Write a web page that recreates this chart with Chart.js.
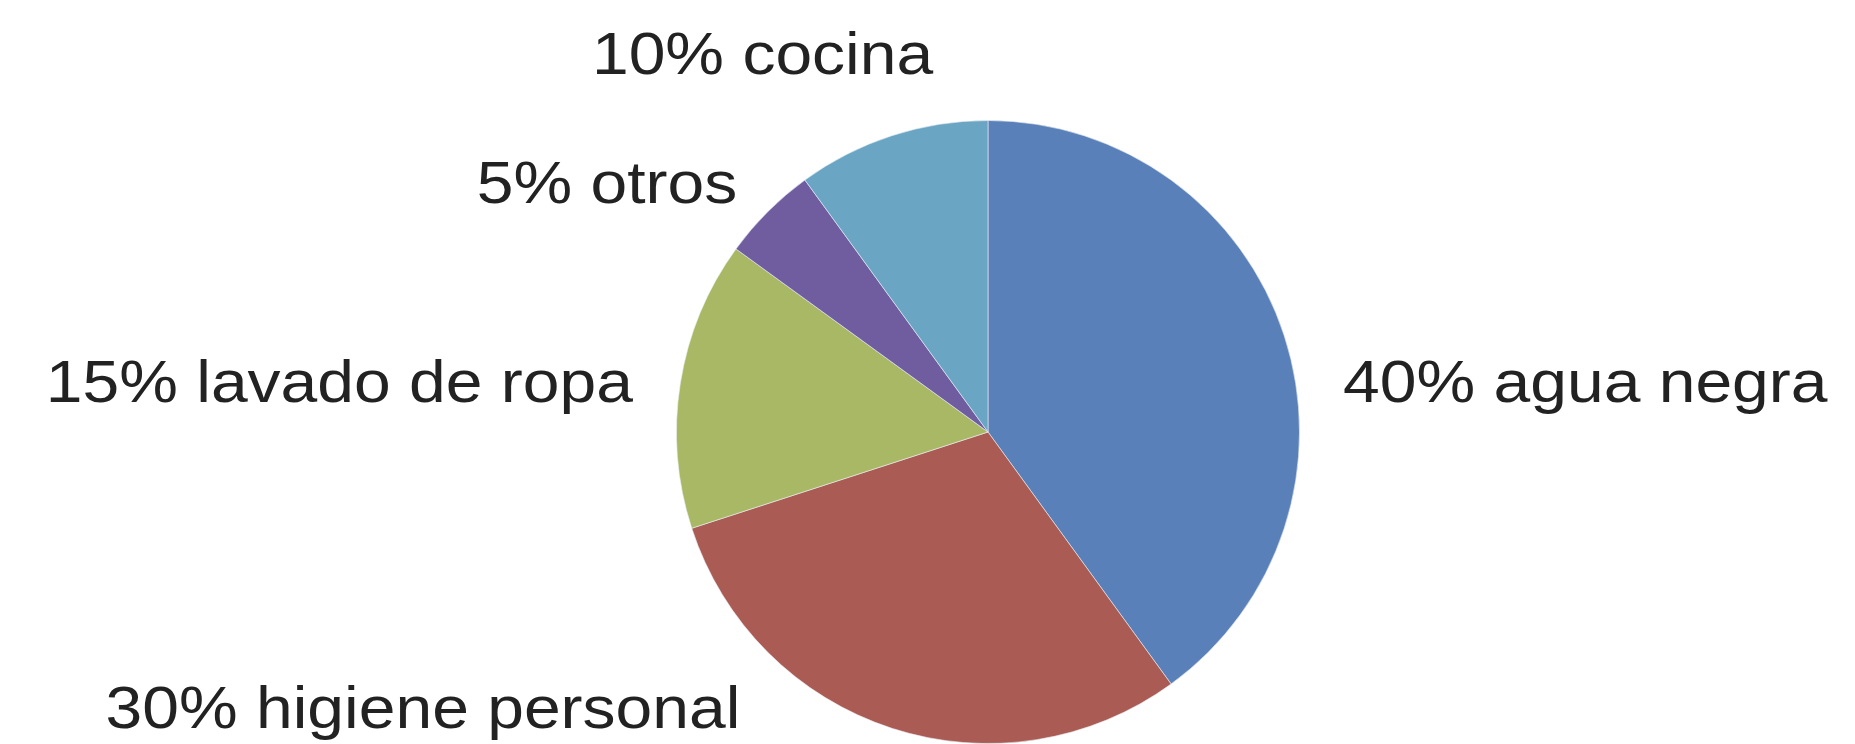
<!DOCTYPE html>
<html>
<head>
<meta charset="utf-8">
<script src="https://cdn.jsdelivr.net/npm/chart.js@4/dist/chart.umd.min.js"></script>
<style>
  html, body { margin: 0; padding: 0; background: #fff; }
  #wrap { width: 1855px; height: 744px; }
</style>
</head>
<body>
<div id="wrap"><canvas id="pie-chart"></canvas></div>
<script>
// data
const categories = ['agua negra', 'higiene personal', 'lavado de ropa', 'otros', 'cocina'];
const shares = [40, 30, 15, 5, 10];
const sliceColors = ['#5a80b9', '#aa5b53', '#a8b865', '#6f5d9f', '#6aa5c4'];

// where each label sits, in units of the pie radius from its centre
// (x = anchor edge, y = text baseline, align = which edge is anchored)
const labelSpots = [
  { dx: 1.14, dy: -0.096, align: 'left' },
  { dx: -0.795, dy: 0.949, align: 'right' },
  { dx: -1.14, dy: -0.096, align: 'right' },
  { dx: -0.805, dy: -0.734, align: 'right' },
  { dx: -0.176, dy: -1.15, align: 'right' }
];

const outsideLabels = {
  id: 'outsideLabels',
  afterDatasetsDraw(chart) {
    const ctx = chart.ctx;
    const arcs = chart.getDatasetMeta(0).data;
    ctx.save();
    ctx.font = '60px "Liberation Sans", Arial, sans-serif';
    ctx.fillStyle = '#222';
    ctx.textBaseline = 'alphabetic';
    arcs.forEach((arc, i) => {
      const r = arc.outerRadius;
      const spot = labelSpots[i];
      const text = shares[i] + '% ' + categories[i];
      const stretch = 1.1;
      const w = ctx.measureText(text).width * stretch;
      let x = arc.x + spot.dx * r;
      if (spot.align === 'right') x -= w;
      const y = arc.y + spot.dy * r;
      ctx.save();
      ctx.translate(x, y);
      ctx.scale(stretch, 1);
      ctx.fillText(text, 0, 0);
      ctx.restore();
    });
    ctx.restore();
  }
};

const ctxPie = document.getElementById('pie-chart').getContext('2d');
new Chart(ctxPie, {
  type: 'pie',
  data: {
    labels: categories,
    datasets: [
      {
        data: shares,
        backgroundColor: sliceColors,
        borderColor: 'rgba(235,240,245,0.6)',
        borderWidth: 1
      }
    ]
  },
  options: {
    responsive: true,
    maintainAspectRatio: false,
    animation: false,
    layout: { padding: { top: 120, bottom: 0, left: 121, right: 0 } },
    plugins: {
      legend: { display: false },
      tooltip: { enabled: false }
    }
  },
  plugins: [outsideLabels]
});
</script>
</body>
</html>
